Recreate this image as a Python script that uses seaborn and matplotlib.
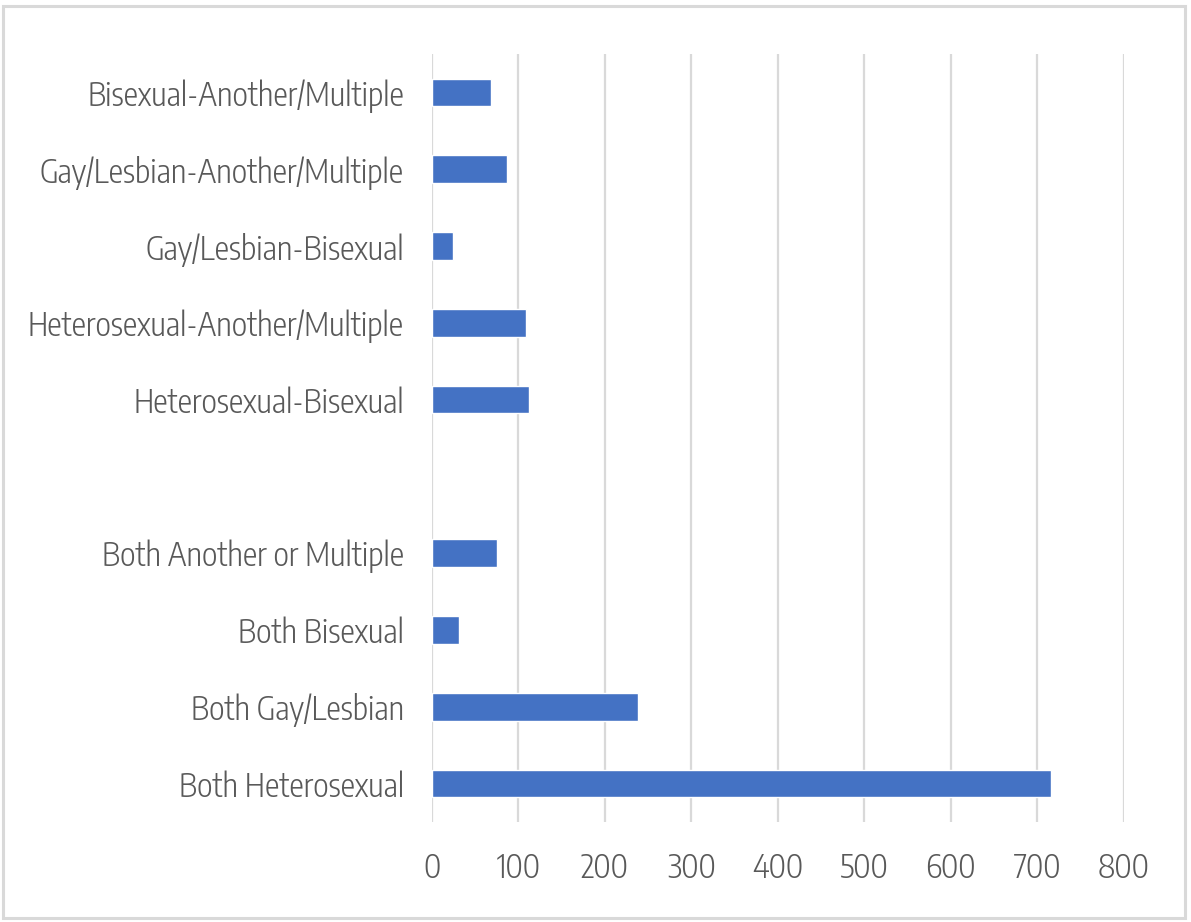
import matplotlib
matplotlib.use("Agg")
import matplotlib.pyplot as plt
from matplotlib.patches import Rectangle
import seaborn as sns
import pandas as pd

# Pair categories, top to bottom; the blank entry separates mixed pairs from matched pairs
categories = [
    "Bisexual-Another/Multiple",
    "Gay/Lesbian-Another/Multiple",
    "Gay/Lesbian-Bisexual",
    "Heterosexual-Another/Multiple",
    "Heterosexual-Bisexual",
    " ",
    "Both Another or Multiple",
    "Both Bisexual",
    "Both Gay/Lesbian",
    "Both Heterosexual",
]
counts = [69, 87, 25, 109, 113, None, 75, 31, 239, 716]
x_ticks = [0, 100, 200, 300, 400, 500, 600, 700, 800]

df = pd.DataFrame({"category": categories, "count": counts}).dropna()

sns.set_theme(style="white")
plt.rcParams["font.family"] = ["Encode Sans Condensed", "DejaVu Sans"]
plt.rcParams["font.weight"] = 300

fig = plt.figure(figsize=(11.91, 9.22), dpi=100)
ax = fig.add_axes([0.3625, 0.1085, 0.581, 0.8329])

sns.barplot(data=df, x="count", y="category", order=categories, orient="h",
            color="#4472C4", saturation=1, width=0.36, ax=ax, zorder=3)

ax.set_xlim(0, 800)
ax.set_ylim(len(categories) - 0.5, -0.5)
ax.set_xticks(x_ticks)
ax.set_xticklabels([str(t) for t in x_ticks])
ax.set_xlabel("")
ax.set_ylabel("")

for t in x_ticks:
    ax.axvline(t, color="#D9D9D9", linewidth=1.6, zorder=1)

for s in ax.spines.values():
    s.set_visible(False)

ax.tick_params(axis="y", length=0, pad=20, labelsize=23.4, labelcolor="#595959")
ax.tick_params(axis="x", length=0, pad=21, labelsize=23.4, labelcolor="#595959")

# light gray frame around the whole chart
fig.patches.append(Rectangle((2.5 / 1191, 4.5 / 922), 1182 / 1191, 911 / 922,
                             transform=fig.transFigure, fill=False,
                             edgecolor="#D9D9D9", linewidth=2.2))

fig.savefig("out.png", dpi=100)
